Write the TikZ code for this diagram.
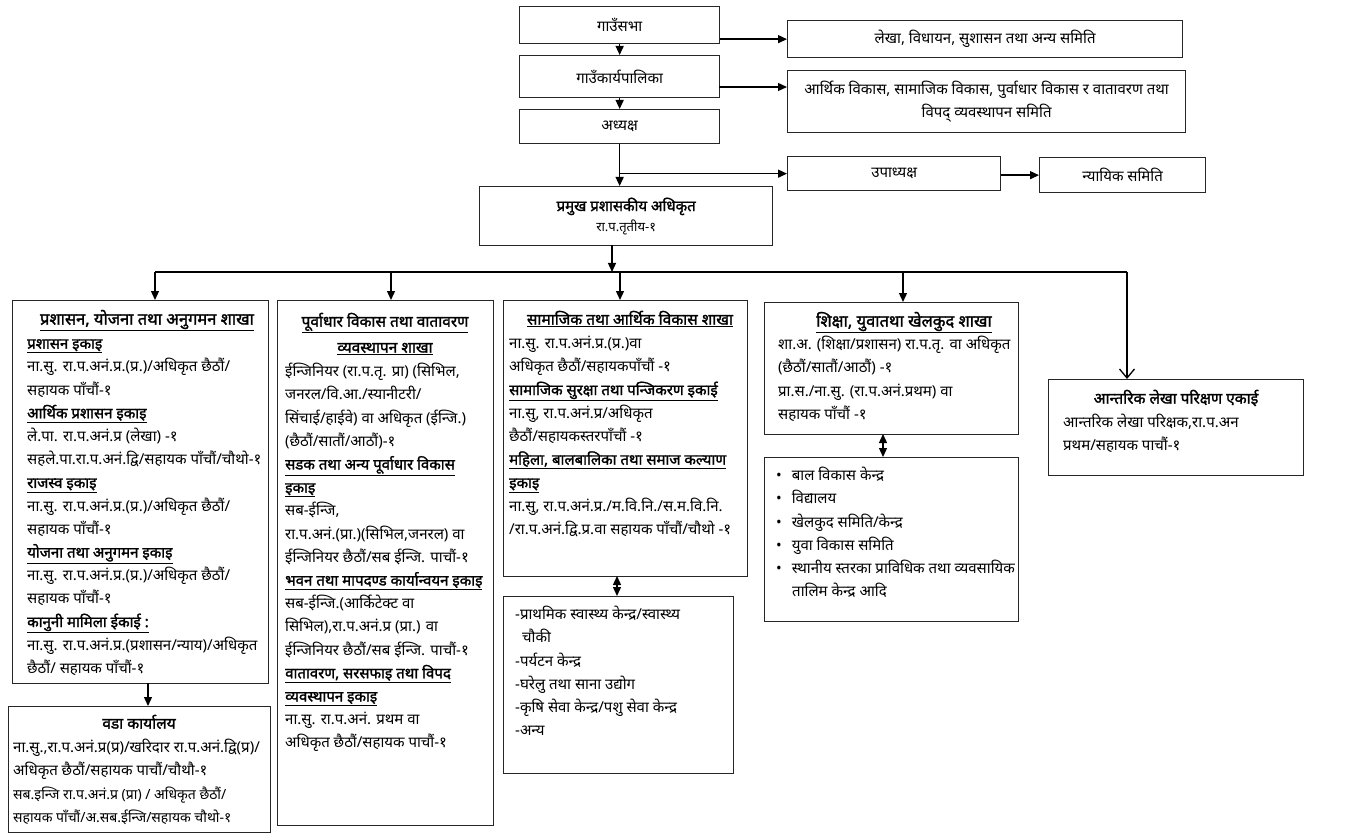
\documentclass[tikz,border=0pt]{standalone}
\usepackage{fontspec}
\setmainfont[Script=Devanagari, BoldFont=Noto Sans, BoldFeatures={FakeBold=1.6}]{Noto Sans}
\usetikzlibrary{arrows.meta,calc}
\newcommand\fst{\rule{0pt}{16pt}}
\tikzset{
  box/.style={draw=black!85, line width=1.3pt, inner sep=0pt, anchor=north west, align=center, font=\fontsize{15}{23.2}\selectfont},
  body/.style={anchor=north west, align=left, inner sep=0pt, font=\fontsize{15}{23.2}\selectfont},
  ttl/.style={anchor=north, align=center, inner sep=0pt, font=\bfseries\fontsize{15.5}{26}\selectfont},
  arr/.style={line width=1.3pt, -{Triangle[length=9pt,width=8pt]}},
  darr/.style={line width=1.3pt, {Triangle[length=9pt,width=8pt]}-{Triangle[length=9pt,width=8pt]}},
  oarr/.style={line width=1.3pt, -{Straight Barb[length=9pt,width=15pt]}},
  ln/.style={line width=1.3pt}
}
\begin{document}
\begin{tikzpicture}[x=1pt,y=-1pt]
\useasboundingbox (0,0) rectangle (1366,837);
\fill[white] (0,0) rectangle (1366,837);

% top boxes
\node[box, minimum width=200pt, minimum height=37pt] (sabha) at (519,6) {गाउँसभा};
\node[box, minimum width=395pt, minimum height=37pt] (lekha) at (787,20) {लेखा, विधायन, सुशासन तथा अन्य समिति};
\node[box, minimum width=200pt, minimum height=42pt] (karya) at (519,55) {गाउँकार्यपालिका};
\node[box, minimum width=398pt, minimum height=62pt] (arthik) at (787,70) {आर्थिक विकास, सामाजिक विकास, पुर्वाधार विकास र वातावरण तथा\\विपद् व्यवस्थापन समिति};
\node[box, minimum width=200pt, minimum height=34pt] (adhy) at (519,109) {अध्यक्ष};
\node[box, minimum width=213pt, minimum height=34pt] (upa) at (787,156) {उपाध्यक्ष};
\node[box, minimum width=166pt, minimum height=35pt] (nyay) at (1039,157) {न्यायिक समिति};
\node[box, minimum width=293pt, minimum height=59pt, font=\fontsize{15}{20}\selectfont] (pramukh) at (479,186) {{\bfseries प्रमुख प्रशासकीय अधिकृत}\\{\fontsize{13}{20}\selectfont रा.प.तृतीय-१}};

% branch boxes
\node[box, minimum width=256pt, minimum height=383pt] (A) at (12,300) {};
\node[box, minimum width=216pt, minimum height=525pt] (B) at (277,300) {};
\node[box, minimum width=244pt, minimum height=276pt] (C) at (503,300) {};
\node[box, minimum width=254pt, minimum height=132pt] (D) at (764,302) {};
\node[box, minimum width=255pt, minimum height=96pt] (E) at (1048,379) {};
\node[box, minimum width=262pt, minimum height=126pt] (F) at (8,706) {};
\node[box, minimum width=230pt, minimum height=177pt] (G) at (503,596) {};
\node[box, minimum width=254pt, minimum height=164pt] (H) at (764,457) {};

% A
\node[ttl, font=\bfseries\fontsize{16.5}{26}\selectfont] (At) at (147,308.5) {\fst\underline{प्रशासन, योजना तथा अनुगमन शाखा}};
\node[body] (Ab) at (27,332.5) {\fst\textbf{\underline{प्रशासन इकाइ}}\\
ना.सु. रा.प.अनं.प्र.(प्र.)/अधिकृत छैठौं/\\
सहायक पाँचौं-१\\
\textbf{\underline{आर्थिक प्रशासन इकाइ}}\\
ले.पा. रा.प.अनं.प्र (लेखा) -१\\
सहले.पा.रा.प.अनं.द्वि/सहायक पाँचौं/चौथो-१\\
\textbf{\underline{राजस्व इकाइ}}\\
ना.सु. रा.प.अनं.प्र.(प्र.)/अधिकृत छैठौं/\\
सहायक पाँचौं-१\\
\textbf{\underline{योजना तथा अनुगमन इकाइ}}\\
ना.सु. रा.प.अनं.प्र.(प्र.)/अधिकृत छैठौं/\\
सहायक पाँचौं-१\\
\textbf{\underline{कानुनी मामिला ईकाई :}}\\
ना.सु. रा.प.अनं.प्र.(प्रशासन/न्याय)/अधिकृत\\
छैठौं/ सहायक पाँचौं-१};

% B
\node[ttl] (Bt) at (385,310.5) {\fst\underline{पूर्वाधार विकास तथा वातावरण}\\\underline{व्यवस्थापन शाखा}};
\node[body] (Bb) at (285,360.5) {\fst ईन्जिनियर (रा.प.तृ. प्रा) (सिभिल,\\
जनरल/वि.आ./स्यानीटरी/\\
सिंचाई/हाईवे) वा अधिकृत (ईन्जि.)\\
(छैठौं/सातौं/आठौं)-१\\
\textbf{\underline{सडक तथा अन्य पूर्वाधार विकास}}\\
\textbf{\underline{इकाइ}}\\
सब-ईन्जि,\\
रा.प.अनं.(प्रा.)(सिभिल,जनरल) वा\\
ईन्जिनियर छैठौं/सब ईन्जि. पाचौं-१\\
\textbf{\underline{भवन तथा मापदण्ड कार्यान्वयन इकाइ}}\\
सब-ईन्जि.(आर्किटेक्ट वा\\
सिभिल),रा.प.अनं.प्र (प्रा.) वा\\
ईन्जिनियर छैठौं/सब ईन्जि. पाचौं-१\\
\textbf{\underline{वातावरण, सरसफाइ तथा विपद}}\\
\textbf{\underline{व्यवस्थापन इकाइ}}\\
ना.सु. रा.प.अनं. प्रथम वा\\
अधिकृत छैठौं/सहायक पाचौं-१};

% C
\node[ttl] (Ct) at (630,308.5) {\fst\underline{सामाजिक तथा आर्थिक विकास शाखा}};
\node[body] (Cb) at (509,332.5) {\fst ना.सु. रा.प.अनं.प्र.(प्र.)वा\\
अधिकृत छैठौं/सहायकपाँचौं -१\\
\textbf{\underline{सामाजिक सुरक्षा तथा पन्जिकरण इकाई}}\\
ना.सु, रा.प.अनं.प्र/अधिकृत\\
छैठौं/सहायकस्तरपाँचौं -१\\
\textbf{\underline{महिला, बालबालिका तथा समाज कल्याण}}\\
\textbf{\underline{इकाइ}}\\
ना.सु, रा.प.अनं.प्र./म.वि.नि./स.म.वि.नि.\\
/रा.प.अनं.द्वि.प्र.वा सहायक पाँचौं/चौथो -१};

% D
\node[ttl, font=\bfseries\fontsize{16.5}{26}\selectfont] (Dt) at (904,310.5) {\fst\underline{शिक्षा, युवातथा खेलकुद शाखा}};
\node[body] (Db) at (778,333.5) {\fst शा.अ. (शिक्षा/प्रशासन) रा.प.तृ. वा अधिकृत\\
(छैठौं/सातौं/आठौं) -१\\
प्रा.स./ना.सु. (रा.प.अनं.प्रथम) वा\\
सहायक पाँचौं -१};

% E
\node[ttl] (Et) at (1176,387.5) {\fst आन्तरिक लेखा परिक्षण एकाई};
\node[body] (Eb) at (1063,411.5) {\fst आन्तरिक लेखा परिक्षक,रा.प.अन\\
प्रथम/सहायक पाचौं-१};

% F
\node[ttl] (Ft) at (139,712.5) {\fst वडा कार्यालय};
\node[body] (Fb) at (13,736.5) {\fst ना.सु.,रा.प.अनं.प्र(प्र)/खरिदार रा.प.अनं.द्वि(प्र)/\\
अधिकृत छैठौं/सहायक पाचौं/चौथौ-१\\
{\fontsize{14}{21.5}\selectfont सब.इन्जि रा.प.अनं.प्र (प्रा) / अधिकृत छैठौं/}\\
{\fontsize{14}{21.5}\selectfont सहायक पाँचौं/अ.सब.ईन्जि/सहायक चौथो-१}};

% G
\node[body] (Gb) at (515,603.5) {\fst -प्राथमिक स्वास्थ्य केन्द्र/स्वास्थ्य\\
\hspace*{7pt}चौकी\\
-पर्यटन केन्द्र\\
-घरेलु तथा साना उद्योग\\
-कृषि सेवा केन्द्र/पशु सेवा केन्द्र\\
-अन्य};

% H
\node[body] (Hb) at (776,464.5) {\fst •\hspace{10pt}बाल विकास केन्द्र\\
•\hspace{10pt}विद्यालय\\
•\hspace{10pt}खेलकुद समिति/केन्द्र\\
•\hspace{10pt}युवा विकास समिति\\
•\hspace{10pt}स्थानीय स्तरका प्राविधिक तथा व्यवसायिक\\
\hspace*{16pt}तालिम केन्द्र आदि};

% connectors top
\draw[arr] (sabha.east |- lekha.west) -- (lekha.west);
\draw[arr] (sabha.south) -- (karya.north);
\coordinate (k1) at (719,87);
\draw[arr] (k1) -- (k1 -| arthik.west);
\draw[arr] (karya.south) -- (adhy.north);
\draw[arr] (adhy.south) -- (adhy.south |- pramukh.north);
\draw[arr] (adhy.south |- upa.west) -- (upa.west);
\draw[arr] (upa.east |- nyay.west) -- (nyay.west);

% bus
\coordinate (p1) at (612,245);
\coordinate (bus) at (612,272);
\coordinate (bA) at (155,272);
\coordinate (bB) at (391,272);
\coordinate (bC) at (620,272);
\coordinate (bD) at (903,272);
\coordinate (bE) at (1127,272);
\draw[arr] (p1) -- (bus);
\draw[ln] (bA) -- (bE);
\draw[arr] (bA) -- (bA |- A.north);
\draw[arr] (bB) -- (bB |- B.north);
\draw[arr] (bC) -- (bC |- C.north);
\draw[arr] (bD) -- (bD |- D.north);
\draw[oarr] (bE) -- (bE |- E.north);

% lower connectors
\coordinate (a1) at (148,683);
\draw[arr] (a1) -- (a1 |- F.north);
\coordinate (c1) at (617,576);
\draw[darr] (c1) -- (c1 |- G.north);
\coordinate (d1) at (883,434);
\draw[darr] (d1) -- (d1 |- H.north);
\end{tikzpicture}
\end{document}
